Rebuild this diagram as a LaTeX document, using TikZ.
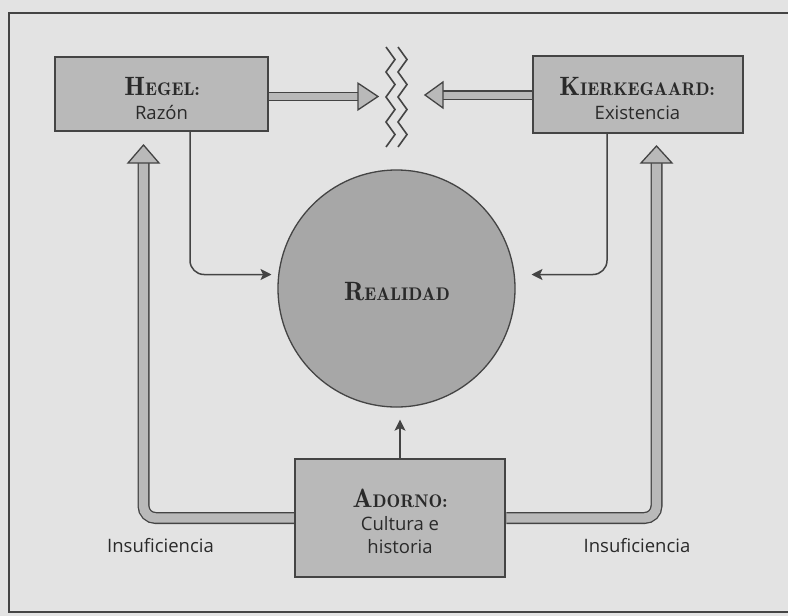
\documentclass[tikz,border=0pt]{standalone}
\usepackage{fontspec}
\newfontfamily\labfont{Open Sans}
\newfontfamily\demi{lmromandemi10-regular.otf}
\usetikzlibrary{calc,arrows.meta}
\definecolor{bg}{HTML}{E3E3E3}
\definecolor{boxg}{HTML}{B9B9B9}
\definecolor{circg}{HTML}{A7A7A7}
\definecolor{ink}{HTML}{444444}
\definecolor{txt}{HTML}{2A2A2A}
\newcommand\bigsc[2]{{\demi{\fontsize{26.5}{28}\selectfont #1}{\fontsize{18.3}{20}\selectfont #2}}}
\begin{document}
\begin{tikzpicture}[x=1pt,y=-1pt,
  box/.style={draw=ink, line width=1.3pt, fill=boxg, inner sep=0pt},
  ttl/.style={anchor=base, text=txt, inner sep=0pt},
  lab/.style={anchor=base, text=txt, inner sep=0pt, font=\labfont\fontsize{18.5}{21}\selectfont},
  thinarrow/.style={draw=ink, line width=1.5pt, -{Stealth[length=11pt,width=11pt,inset=2.5pt]}, rounded corners=14pt},
  dbl/.style={draw=ink, line width=1.3pt, double=boxg, double distance=#1},
  head/.style={draw=ink, line width=1.3pt, fill=boxg, line join=miter},
  zig/.style={draw=ink, line width=1.6pt, line join=miter}
]
\fill[bg] (0,0) rectangle (788,616);
\useasboundingbox (0,0) rectangle (788,616);
\draw[ink, line width=1.6pt] (788,13) -- (9,13) -- (9,612) -- (788,612);

% boxes
\node[box, minimum width=213pt, minimum height=74pt] (hegel) at (161.5,94) {};
\node[box, minimum width=210pt, minimum height=77pt] (kier) at (638,94.5) {};
\node[box, minimum width=210pt, minimum height=118pt] (adorno) at (400,518) {};
\node[circle, draw=ink, line width=1.3pt, fill=circg, minimum size=237pt, inner sep=0pt] (real) at (396.5,288.5) {};

% texts
\node[ttl] (hegelT) at (162,95) {\bigsc{H}{EGEL:}};
\node[lab] (hegelS) at (161.5,119) {Razón};
\node[ttl] (kierT) at (637,95) {\bigsc{K}{IERKEGAARD:}};
\node[lab] (kierS) at (637.5,119) {Existencia};
\node[ttl] (realT) at (397,300) {\bigsc{R}{EALIDAD}};
\node[ttl] (adT) at (400,507) {\bigsc{A}{DORNO:}};
\node[lab] (adS1) at (400,530) {Cultura e};
\node[lab] (adS2) at (400,553) {historia};
\node[lab] (insL) at (160.5,552) {Insuficiencia};
\node[lab] (insR) at (637,552) {Insuficiencia};

% coordinates
\coordinate (hlb) at (143.5,161);
\coordinate (hlt) at (143.5,145);
\coordinate (krb) at (656.5,161);
\coordinate (krt) at (656.5,146);
\coordinate (hht) at (378,96.5);
\coordinate (kht) at (425,95);
\coordinate (rt) at ($(real.south)+(0,12)$);

% double arrows
\draw[dbl=9.4pt, rounded corners=12pt] ([xshift=-0.6pt]adorno.west) -| (hlb);
\filldraw[head] (hlt) -- ++(15.5,18) -- ++(-31,0) -- cycle;
\draw[dbl=9.4pt, rounded corners=12pt] ([xshift=0.6pt]adorno.east) -| (krb);
\filldraw[head] (krt) -- ++(15.5,17) -- ++(-31,0) -- cycle;
\draw[dbl=7pt] ([xshift=0.6pt,yshift=-2.5pt]hegel.east) -- (360,96.5);
\filldraw[head] (hht) -- ++(-20,-13.3) -- ++(0,26.6) -- cycle;
\draw[dbl=7pt] ([xshift=-0.6pt,yshift=-0.5pt]kier.west) -- (441,95);
\filldraw[head] (kht) -- ++(18,-13) -- ++(0,26) -- cycle;

% zigzags
\draw[zig] (386,47) -- (395,59.5) -- (386,72) -- (395,84.5) -- (386,97) -- (395,109.5) -- (386,122) -- (395,134.5) -- (386,147);
\draw[zig] (398,47) -- (407,59.5) -- (398,72) -- (407,84.5) -- (398,97) -- (407,109.5) -- (398,122) -- (407,134.5) -- (398,147);

% thin arrows
\draw[thinarrow] ([xshift=28.5pt]hegel.south) |- ($(real.center)+(-125,-14)$);
\draw[thinarrow] ([xshift=-31pt]kier.south) |- ($(real.center)+(135,-14)$);
\draw[thinarrow, rounded corners=0pt] (adorno.north) -- (adorno.north |- rt);
\end{tikzpicture}
\end{document}
